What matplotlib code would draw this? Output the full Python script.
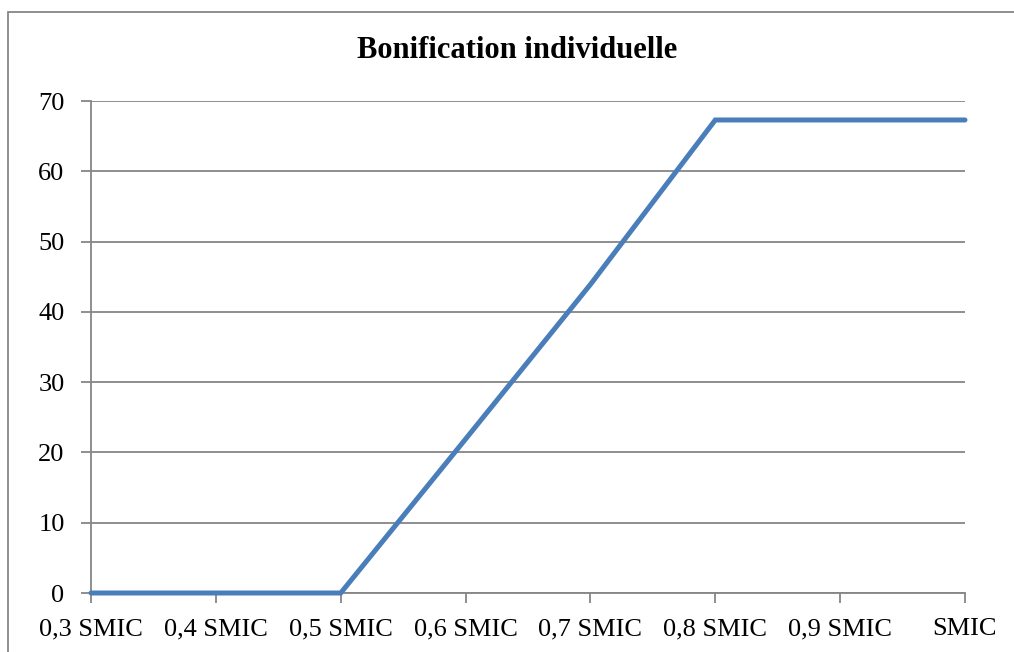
import matplotlib
matplotlib.use('agg')
import matplotlib.pyplot as plt
from matplotlib.patches import Rectangle

# data
categories = ["0,3 SMIC", "0,4 SMIC", "0,5 SMIC", "0,6 SMIC",
              "0,7 SMIC", "0,8 SMIC", "0,9 SMIC", "SMIC"]
bonification = [0, 0, 0, 21.9, 43.9, 67.3, 67.3, 67.3]
y_ticks = [0, 10, 20, 30, 40, 50, 60, 70]

W, H = 1014, 652
plt.rcParams['font.family'] = ['Liberation Serif', 'DejaVu Serif']

fig = plt.figure(figsize=(W / 100, H / 100), dpi=100)
ax = fig.add_axes([91 / W, 1 - 593 / H, (965 - 91) / W, (593 - 101) / H])

# outer chart frame (cropped at right and bottom in the reference)
fig.patches.append(Rectangle((8 / W, -0.1), 1.2, 1 - 12 / H + 0.1,
                             transform=fig.transFigure, fill=False,
                             edgecolor='#868686', linewidth=1.3))

x = list(range(len(categories)))
ax.plot(x, bonification, color='#4A7EBB', linewidth=3.6,
        solid_capstyle='round', solid_joinstyle='miter', zorder=3, clip_on=False)

ax.set_xlim(0, len(categories) - 1)
ax.set_ylim(0, 70)
ax.set_yticks(y_ticks)
ax.set_xticks(x)
ax.set_xticklabels(categories)

ax.grid(axis='y', color='#868686', linewidth=1.3)
ax.set_axisbelow(True)
for s in ['top', 'right']:
    ax.spines[s].set_visible(False)
for s in ['left', 'bottom']:
    ax.spines[s].set_color('#868686')
    ax.spines[s].set_linewidth(1.3)

ax.tick_params(axis='both', direction='out', length=7, width=1.3,
               color='#868686', labelsize=19, labelcolor='black')
ax.tick_params(axis='y', pad=12)
ax.tick_params(axis='x', pad=11)

fig.text(517 / W, 1 - 50 / H, "Bonification individuelle", ha='center',
         va='center', fontsize=22, fontweight='bold')

fig.savefig('out.png', dpi=100)
